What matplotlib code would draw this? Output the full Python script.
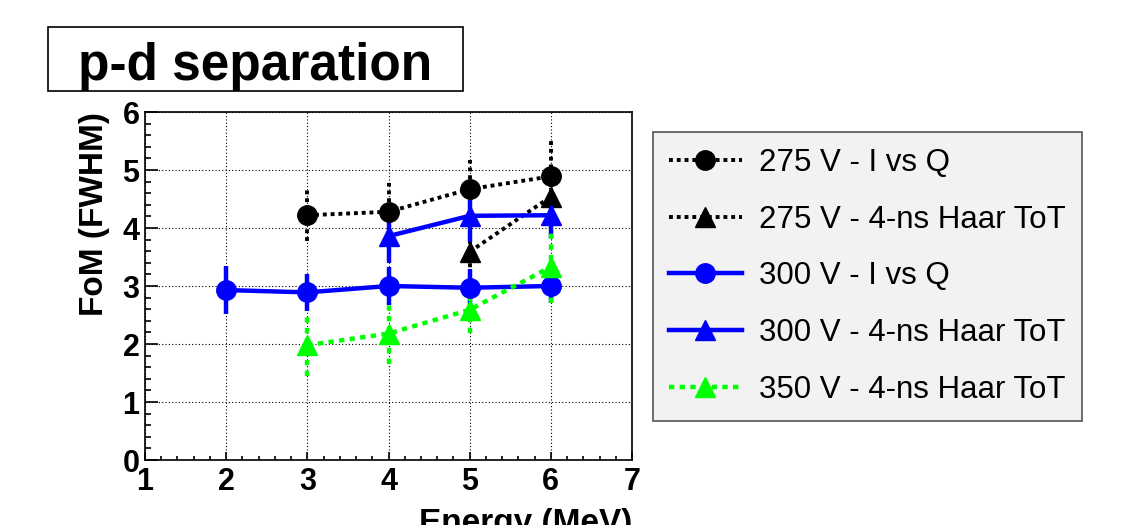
import numpy as np
import matplotlib
matplotlib.use('Agg')
import matplotlib.pyplot as plt
from matplotlib.lines import Line2D
from matplotlib.patches import Rectangle
from matplotlib.ticker import MultipleLocator

plt.rcParams['font.family'] = ['Liberation Sans', 'DejaVu Sans']

# 275 V - I vs Q
e_275_iq = [3, 4, 5, 6]
fom_275_iq = [4.22, 4.28, 4.67, 4.89]
err_275_iq = [0.45, 0.5, 0.5, 0.66]
# 275 V - 4-ns Haar ToT
e_275_haar = [5, 6]
fom_275_haar = [3.59, 4.54]
err_275_haar = [0.4, 0.5]
# 300 V - I vs Q
e_300_iq = [2, 3, 4, 5, 6]
fom_300_iq = [2.93, 2.89, 3.0, 2.97, 3.0]
err_300_iq = [0.41, 0.32, 0.33, 0.33, 0.3]
# 300 V - 4-ns Haar ToT
e_300_haar = [4, 5, 6]
fom_300_haar = [3.86, 4.21, 4.22]
err_300_haar = [0.47, 0.45, 0.4]
# 350 V - 4-ns Haar ToT
e_350_haar = [3, 4, 5, 6]
fom_350_haar = [1.98, 2.18, 2.59, 3.33]
err_350_haar = [0.53, 0.52, 0.4, 0.62]

labels = ['275 V - I vs Q', '275 V - 4-ns Haar ToT', '300 V - I vs Q',
          '300 V - 4-ns Haar ToT', '350 V - 4-ns Haar ToT']

fig = plt.figure(figsize=(11.39, 5.25), dpi=100)
fig.patch.set_facecolor('white')
ax = fig.add_axes([145/1139, 65/525, 487/1139, 348/525])

series = [
    (e_275_iq, fom_275_iq, err_275_iq, 'black', 'o', (0, (1, 1)), 2.8),
    (e_275_haar, fom_275_haar, err_275_haar, 'black', '^', (0, (1, 1)), 2.8),
    (e_300_iq, fom_300_iq, err_300_iq, '#0000ff', 'o', '-', 3.2),
    (e_300_haar, fom_300_haar, err_300_haar, '#0000ff', '^', '-', 3.2),
    (e_350_haar, fom_350_haar, err_350_haar, '#00ff00', '^', (0, (1.2, 1.2)), 3.2),
]

handles = []
for (x, y, err, c, m, ls, lw), lab in zip(series, labels):
    eb = ax.errorbar(x, y, yerr=err, color=c, marker=m, ms=14, ls=ls, lw=lw,
                     elinewidth=lw, capsize=0, zorder=3)
    eb[2][0].set_linestyle(ls)
    handles.append(Line2D([], [], color=c, marker=m, ms=14, ls=ls, lw=lw))

ax.set_xlim(1, 7)
ax.set_ylim(0, 6)
ax.xaxis.set_major_locator(MultipleLocator(1))
ax.xaxis.set_minor_locator(MultipleLocator(0.2))
ax.yaxis.set_major_locator(MultipleLocator(1))
ax.yaxis.set_minor_locator(MultipleLocator(0.2))
ax.tick_params(axis='both', which='both', direction='in', top=False, right=False,
               labelsize=22, width=1.2)
ax.tick_params(axis='y', which='major', length=9, pad=4)
ax.tick_params(axis='y', which='minor', length=4)
ax.tick_params(axis='x', which='major', length=6, pad=5)
ax.tick_params(axis='x', which='minor', length=3)
for lbl in ax.get_xticklabels() + ax.get_yticklabels():
    lbl.set_fontweight('bold')
ax.grid(True, which='major', color='black', ls=(0, (1, 2)), lw=0.8)
for sp in ax.spines.values():
    sp.set_linewidth(1.2)

ax.set_xlabel('Energy (MeV)', fontsize=24, fontweight='bold', loc='right', labelpad=8)
ax.set_ylabel('FoM (FWHM)', fontsize=24, fontweight='bold', loc='top', labelpad=9)

# title box
fig.patches.append(Rectangle((48/1139, 434/525), 415/1139, 64/525,
                             transform=fig.transFigure, fill=False,
                             edgecolor='black', lw=1.2))
fig.text(255.5/1139, 445/525, 'p-d separation', fontsize=37, fontweight='bold',
         ha='center', va='baseline')

leg = fig.legend(handles=handles, labels=labels, loc='upper left',
                 bbox_to_anchor=(653/1139, 393/525), borderaxespad=0,
                 fontsize=22.5, handlelength=2.35, labelspacing=0.86,
                 borderpad=0.5, handletextpad=0.55, fancybox=False, framealpha=1,
                 facecolor='#f2f2f2', edgecolor='#555555')
leg.get_frame().set_linewidth(1.2)

fig.savefig('out.png', dpi=100)
